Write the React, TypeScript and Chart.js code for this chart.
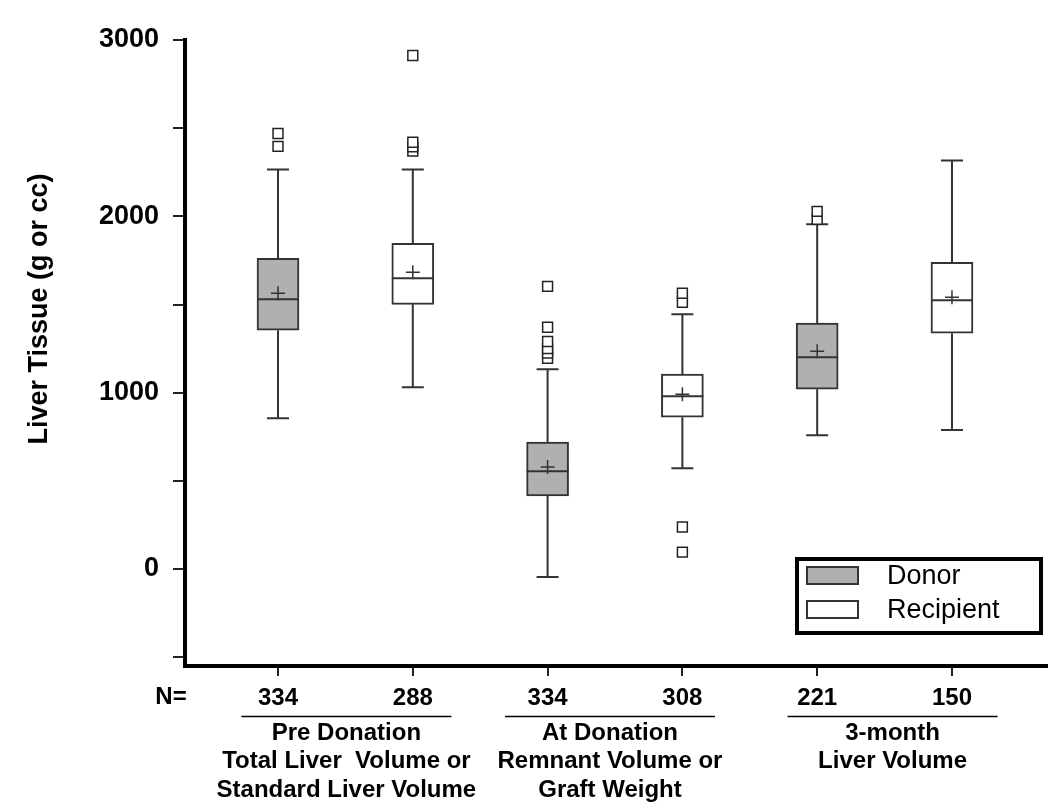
import React, { useEffect, useRef } from 'react';
import { Chart, registerables } from 'chart.js';

Chart.register(...registerables);

// ---------- data ----------
const categories = ['Donor Pre', 'Recipient Pre', 'Donor At', 'Recipient At', 'Donor 3-month', 'Recipient 3-month'];
const boxGroups = ['Donor', 'Recipient', 'Donor', 'Recipient', 'Donor', 'Recipient'];
const nValues = [334, 288, 334, 308, 221, 150];
const whiskerLow = [855, 1031, -45, 572, 759, 788];
const q1Values = [1354, 1501, 414, 861, 1020, 1337];
const medianValues = [1530, 1649, 555, 980, 1201, 1524];
const meanValues = [1564, 1683, 578, 991, 1235, 1541];
const q3Values = [1762, 1847, 720, 1105, 1394, 1739];
const whiskerHigh = [2266, 2266, 1133, 1445, 1955, 2317];
const outlierValues = [
  [2397, 2470],
  [2370, 2395, 2420, 2912],
  [1195, 1225, 1250, 1290, 1371, 1603],
  [96, 238, 1513, 1564],
  [1983, 2028],
  [],
];
const groupLabels = [
  ['Pre Donation', 'Total Liver  Volume or', 'Standard Liver Volume'],
  ['At Donation', 'Remnant Volume or', 'Graft Weight'],
  ['3-month', 'Liver Volume'],
];
const groupMembers = [[0, 1], [2, 3], [4, 5]];
const yTickValues = [-500, 0, 500, 1000, 1500, 2000, 2500, 3000];
const yLabeledTicks = [0, 1000, 2000, 3000];
const yAxisTitle = 'Liver Tissue (g or cc)';
const legendLabels = ['Donor', 'Recipient'];
const nPrefix = 'N=';

// ---------- style ----------
const FONT = "'Liberation Sans', Arial, Helvetica, sans-serif";
const DONOR_FILL = '#b0b0b0';
const RECIP_FILL = '#ffffff';
const LINE = '#333333';
const fillFor = (g: string) => (g === 'Donor' ? DONOR_FILL : RECIP_FILL);

const BAR_INDEX = 2;

const boxPlugin = {
  id: 'boxExtras',
  afterDatasetDraw(chart: any, args: any) {
    if (args.index !== BAR_INDEX) return;
    const ctx = chart.ctx;
    const xs = chart.scales.x;
    const ys = chart.scales.y;
    ctx.save();
    ctx.strokeStyle = LINE;
    ctx.lineWidth = 2;
    const half = 21;
    const cap = 11;
    categories.forEach((_, i) => {
      const x = xs.getPixelForValue(i);
      const yLo = ys.getPixelForValue(whiskerLow[i]);
      const yQ1 = ys.getPixelForValue(q1Values[i]);
      const yQ3 = ys.getPixelForValue(q3Values[i]);
      const yHi = ys.getPixelForValue(whiskerHigh[i]);
      const yMed = ys.getPixelForValue(medianValues[i]);
      ctx.beginPath();
      ctx.moveTo(x, yQ3); ctx.lineTo(x, yHi);
      ctx.moveTo(x - cap, yHi); ctx.lineTo(x + cap, yHi);
      ctx.moveTo(x, yQ1); ctx.lineTo(x, yLo);
      ctx.moveTo(x - cap, yLo); ctx.lineTo(x + cap, yLo);
      ctx.moveTo(x - half, yMed); ctx.lineTo(x + half, yMed);
      ctx.stroke();
    });
    ctx.restore();
  },
  afterDraw(chart: any) {
    const ctx = chart.ctx;
    const xs = chart.scales.x;
    ctx.save();
    ctx.fillStyle = '#000';
    ctx.textAlign = 'center';
    ctx.textBaseline = 'middle';

    // y axis title
    ctx.save();
    ctx.translate(40, 309);
    ctx.rotate(-Math.PI / 2);
    ctx.font = `bold 27px ${FONT}`;
    ctx.fillText(yAxisTitle, 0, 0);
    ctx.restore();

    // N=
    ctx.font = `bold 24px ${FONT}`;
    ctx.fillText(nPrefix, 171, 697);

    // group labels
    const offsets = [1, -5, 8];
    groupMembers.forEach((m, gi) => {
      const cx = (xs.getPixelForValue(m[0]) + xs.getPixelForValue(m[1])) / 2 + offsets[gi];
      ctx.strokeStyle = '#000';
      ctx.lineWidth = 1.5;
      ctx.beginPath();
      ctx.moveTo(cx - 105, 716.5);
      ctx.lineTo(cx + 105, 716.5);
      ctx.stroke();
      ctx.font = `bold 24px ${FONT}`;
      groupLabels[gi].forEach((t, li) => {
        ctx.fillText(t, cx, 733 + li * 28.5);
      });
    });

    // legend
    ctx.lineWidth = 4;
    ctx.strokeStyle = '#000';
    ctx.strokeRect(797, 559, 244, 74);
    legendLabels.forEach((lab, i) => {
      const y = 567 + i * 34;
      ctx.fillStyle = fillFor(lab);
      ctx.fillRect(807, y, 51, 17);
      ctx.lineWidth = 2;
      ctx.strokeStyle = LINE;
      ctx.strokeRect(807, y, 51, 17);
      ctx.fillStyle = '#000';
      ctx.textAlign = 'left';
      ctx.font = `27px ${FONT}`;
      ctx.fillText(lab, 887, y + 10);
    });
    ctx.restore();
  },
};

export default function App() {
  const ref = useRef<HTMLCanvasElement>(null);
  useEffect(() => {
    if (!ref.current) return;
    const outlierPoints: { x: number; y: number }[] = [];
    outlierValues.forEach((arr, i) => arr.forEach((v) => outlierPoints.push({ x: i, y: v })));
    const chart = new Chart(ref.current, {
      type: 'bar',
      data: {
        datasets: [
          {
            type: 'scatter',
            label: 'Mean',
            data: meanValues.map((v, i) => ({ x: i, y: v })),
            pointStyle: 'cross',
            pointRadius: 7,
            borderColor: LINE,
            borderWidth: 1.5,
            showLine: false,
          } as any,
          {
            type: 'scatter',
            label: 'Outliers',
            data: outlierPoints,
            pointStyle: 'rect',
            pointRadius: 7,
            backgroundColor: '#ffffff',
            borderColor: '#222',
            borderWidth: 1.5,
            showLine: false,
          } as any,
          {
            type: 'bar',
            label: 'Box',
            data: q1Values.map((q, i) => ({ x: i, y: [q, q3Values[i]] })),
            backgroundColor: boxGroups.map(fillFor),
            borderColor: LINE,
            borderWidth: 2,
            borderSkipped: false,
            barThickness: 42,
          } as any,
        ],
      },
      options: {
        animation: false,
        responsive: false,
        devicePixelRatio: 1,
        events: [],
        layout: { autoPadding: false, padding: { top: 40, right: 3, left: 0, bottom: 0 } },
        plugins: { legend: { display: false }, tooltip: { enabled: false }, title: { display: false } },
        scales: {
          x: {
            type: 'linear',
            min: -0.69,
            max: 5.705,
            offset: false,
            bounds: 'data',
            afterFit(s: any) { s.height = 146; s.paddingRight = 0; s.paddingLeft = 0; },
            afterBuildTicks(s: any) { s.ticks = nValues.map((_, i) => ({ value: i })); },
            ticks: {
              autoSkip: false,
              maxRotation: 0,
              padding: 8,
              color: '#000',
              font: { family: FONT, size: 24, weight: 'bold' },
              callback: (v: any) => {
                const n = Math.round(Number(v));
                return n >= 0 && n < nValues.length ? String(nValues[n]) : '';
              },
            },
            grid: { drawOnChartArea: false, drawTicks: true, tickLength: 10, lineWidth: 2, color: '#222', offset: false },
            border: { display: true, width: 4, color: '#000' },
          },
          y: {
            type: 'linear',
            min: -550,
            max: 3000,
            bounds: 'data',
            afterFit(s: any) { s.width = 185; s.paddingTop = 0; s.paddingBottom = 0; },
            afterBuildTicks(s: any) { s.ticks = yTickValues.map((v) => ({ value: v })); },
            ticks: {
              autoSkip: false,
              padding: 14,
              color: '#000',
              font: { family: FONT, size: 27, weight: 'bold' },
              callback: (v: any) => (yLabeledTicks.includes(Math.round(Number(v))) ? String(Math.round(Number(v))) : ''),
            },
            grid: { drawOnChartArea: false, drawTicks: true, tickLength: 12, lineWidth: 2, color: '#222' },
            border: { display: true, width: 4, color: '#000' },
          },
        },
      } as any,
      plugins: [boxPlugin],
    });
    return () => chart.destroy();
  }, []);
  return (
    <canvas
      ref={ref}
      width={1050}
      height={812}
      style={{ position: 'fixed', left: 0, top: 0, width: 1050, height: 812, background: '#fff' }}
    />
  );
}
